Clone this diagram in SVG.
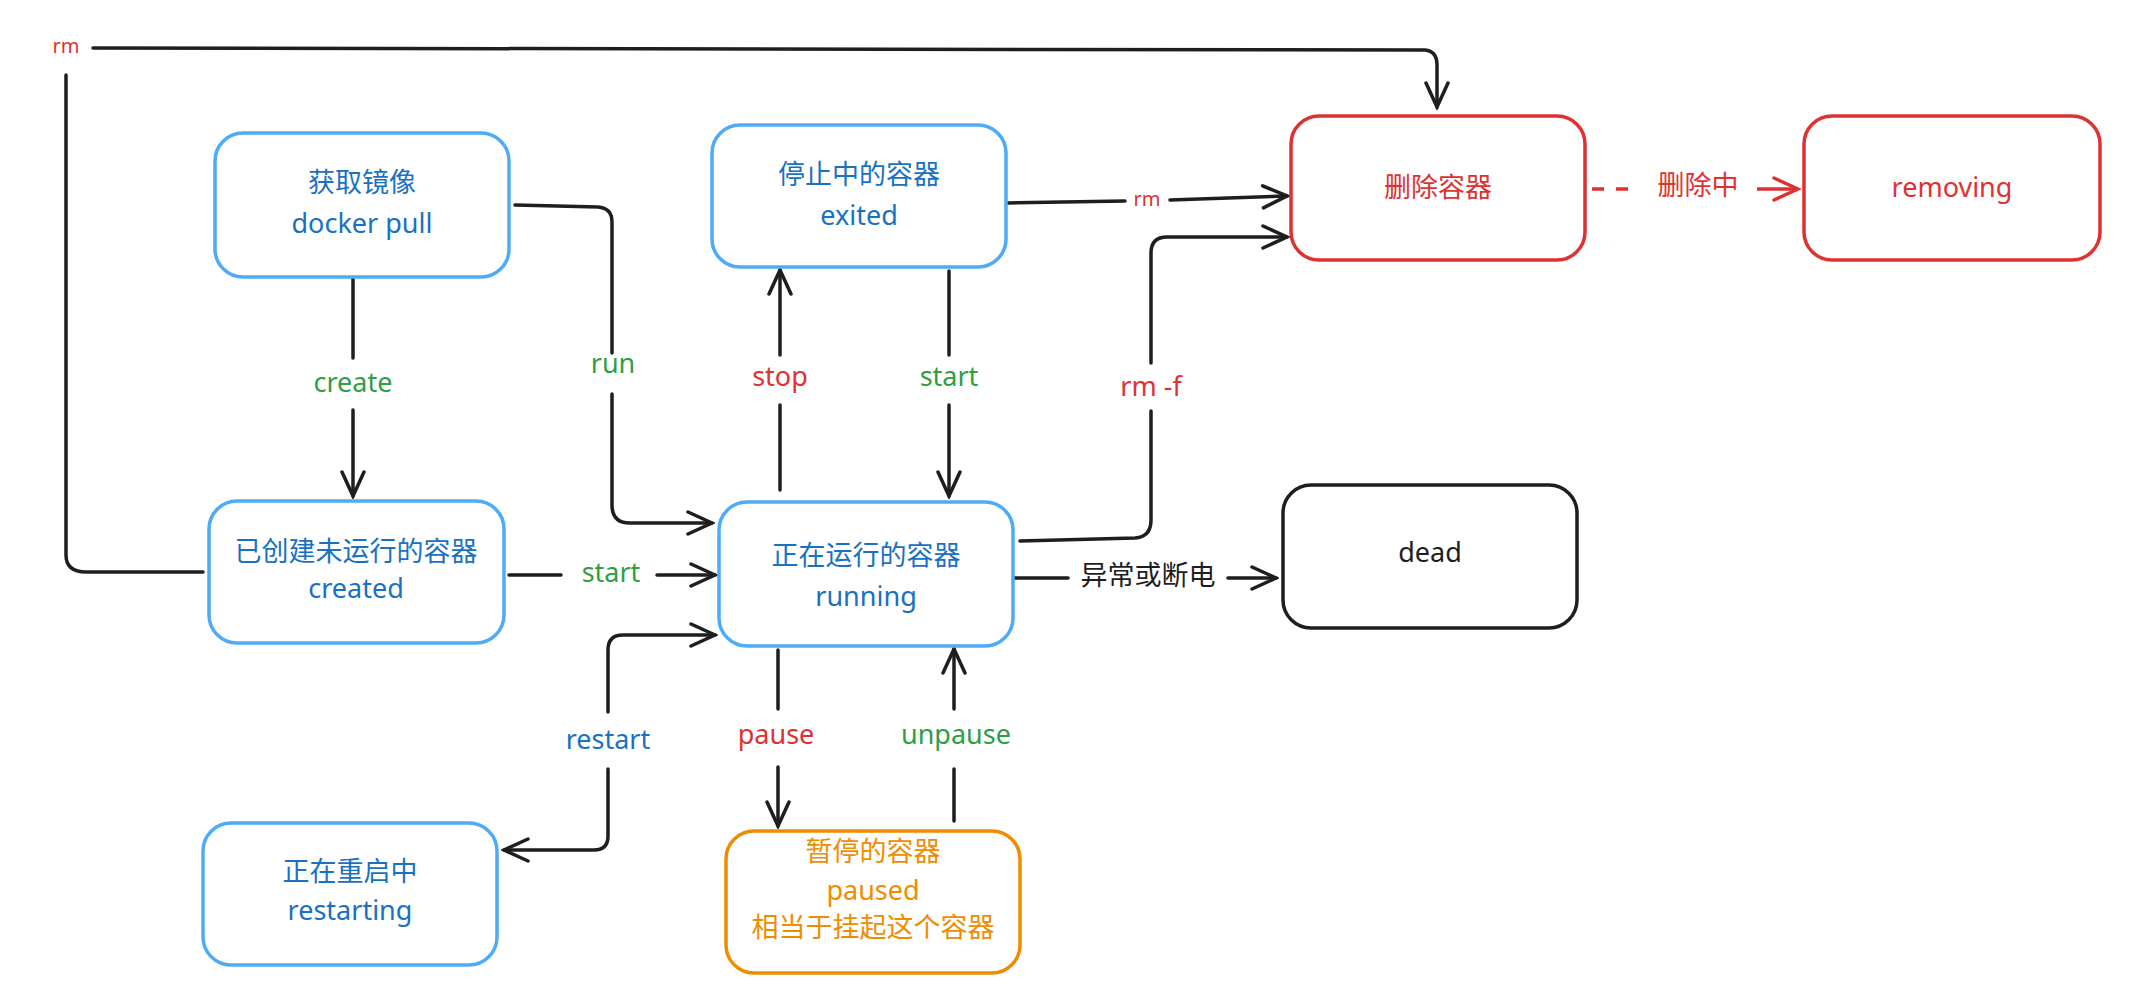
<svg xmlns="http://www.w3.org/2000/svg" width="2147" height="998" viewBox="0 0 2147 998">
<defs>
<marker id="ah" viewBox="0 0 30 30" refX="27" refY="15" markerWidth="30" markerHeight="30" markerUnits="userSpaceOnUse" orient="auto"><path d="M3,4 L27,15 L3,26" fill="none" stroke="#1e1e1e" stroke-width="3.5" stroke-linecap="round"/></marker>
<marker id="ahr" viewBox="0 0 30 30" refX="27" refY="15" markerWidth="30" markerHeight="30" markerUnits="userSpaceOnUse" orient="auto"><path d="M3,4 L27,15 L3,26" fill="none" stroke="#e03131" stroke-width="3.5" stroke-linecap="round"/></marker>
</defs>
<style>
text{font-family:"Noto Sans","Noto Sans CJK SC",sans-serif;font-size:27px;text-anchor:middle;dominant-baseline:middle}
.box{fill:#fff;stroke-width:3.5}
.b{stroke:#4dabf7}.r{stroke:#e03131}.o{stroke:#f08c00}.k{stroke:#1e1e1e}
.tb{fill:#1971c2}.tr{fill:#e03131}.tg{fill:#2f9e44}.to{fill:#f08c00}.tk{fill:#1e1e1e}
.c{fill:none;stroke:#1e1e1e;stroke-width:3.5;stroke-linecap:round}
.sm{font-size:20px}
</style>
<rect width="2147" height="998" fill="#fff"/>
<g id="connectors">
<path class="c" d="M93,48 L1425,50 Q1437,51 1437,65 L1437,107" marker-end="url(#ah)"/>
<path class="c" d="M66,75 L66,555 Q66,572 86,572 L203,572"/>
<path class="c" d="M353,274 L353,358"/>
<path class="c" d="M353,410 L353,496" marker-end="url(#ah)"/>
<path class="c" d="M515,205 L598,207 Q612,208 612,222 L612,353"/>
<path class="c" d="M612,394 L612,505 Q612,523 630,523 L712,523" marker-end="url(#ah)"/>
<path class="c" d="M509,575 L561,575"/>
<path class="c" d="M657,575 L715,575" marker-end="url(#ah)"/>
<path class="c" d="M780,490 L780,405"/>
<path class="c" d="M780,355 L780,270" marker-end="url(#ah)"/>
<path class="c" d="M949,271 L949,355"/>
<path class="c" d="M949,405 L949,496" marker-end="url(#ah)"/>
<path class="c" d="M1008,203 L1125,201"/>
<path class="c" d="M1170,200 L1287,196" marker-end="url(#ah)"/>
<path class="c" d="M1020,541 L1135,538 Q1151,537 1151,520 L1151,411"/>
<path class="c" d="M1151,363 L1151,253 Q1151,237 1167,237 L1287,237" marker-end="url(#ah)"/>
<path class="c" d="M1013,578 L1068,578"/>
<path class="c" d="M1228,578 L1276,578" marker-end="url(#ah)"/>
<path fill="none" stroke="#e03131" stroke-width="3.5" stroke-dasharray="12,12" d="M1592,189 L1639,189"/>
<path fill="none" stroke="#e03131" stroke-width="3.5" d="M1757,189 L1798,189" marker-end="url(#ahr)"/>
<path class="c" d="M608,769 L608,836 Q608,850 594,850 L504,850" marker-end="url(#ah)"/>
<path class="c" d="M608,712 L608,650 Q608,635 623,635 L715,635" marker-end="url(#ah)"/>
<path class="c" d="M778,650 L778,709"/>
<path class="c" d="M778,767 L778,826" marker-end="url(#ah)"/>
<path class="c" d="M954,821 L954,769"/>
<path class="c" d="M954,709 L954,649" marker-end="url(#ah)"/>
<text x="66" y="48" class="tr sm">rm</text>
<text x="353" y="385" class="tg">create</text>
<text x="613" y="366" class="tg">run</text>
<text x="611" y="575" class="tg">start</text>
<text x="780" y="379" class="tr">stop</text>
<text x="949" y="379" class="tg">start</text>
<text x="1147" y="201" class="tr sm">rm</text>
<text x="1151" y="389" class="tr">rm -f</text>
<text x="1148" y="578" class="tk">异常或断电</text>
<text x="1698" y="188" class="tr">删除中</text>
<text x="608" y="742" class="tb">restart</text>
<text x="776" y="737" class="tr">pause</text>
<text x="956" y="737" class="tg">unpause</text>
</g>
<g id="pull"><rect class="box b" x="215" y="133" width="294" height="144" rx="28"/><text x="362" y="185" class="tb">获取镜像</text><text x="362" y="226" class="tb">docker pull</text></g>
<g id="exited"><rect class="box b" x="712" y="125" width="294" height="142" rx="28"/><text x="859" y="177" class="tb">停止中的容器</text><text x="859" y="218" class="tb">exited</text></g>
<g id="created"><rect class="box b" x="209" y="501" width="295" height="142" rx="28"/><text x="356" y="554" class="tb">已创建未运行的容器</text><text x="356" y="591" class="tb">created</text></g>
<g id="running"><rect class="box b" x="719" y="502" width="294" height="144" rx="28"/><text x="866" y="558" class="tb">正在运行的容器</text><text x="866" y="599" class="tb">running</text></g>
<g id="restarting"><rect class="box b" x="203" y="823" width="294" height="142" rx="28"/><text x="350" y="874" class="tb">正在重启中</text><text x="350" y="913" class="tb">restarting</text></g>
<g id="paused"><rect class="box o" x="726" y="831" width="294" height="142" rx="28"/><text x="873" y="854" class="to">暂停的容器</text><text x="873" y="893" class="to">paused</text><text x="873" y="930" class="to">相当于挂起这个容器</text></g>
<g id="delete"><rect class="box r" x="1291" y="116" width="294" height="144" rx="28"/><text x="1438" y="190" class="tr">删除容器</text></g>
<g id="removing"><rect class="box r" x="1804" y="116" width="296" height="144" rx="28"/><text x="1952" y="190" class="tr">removing</text></g>
<g id="dead"><rect class="box k" x="1283" y="485" width="294" height="143" rx="28"/><text x="1430" y="555" class="tk">dead</text></g>
</svg>
